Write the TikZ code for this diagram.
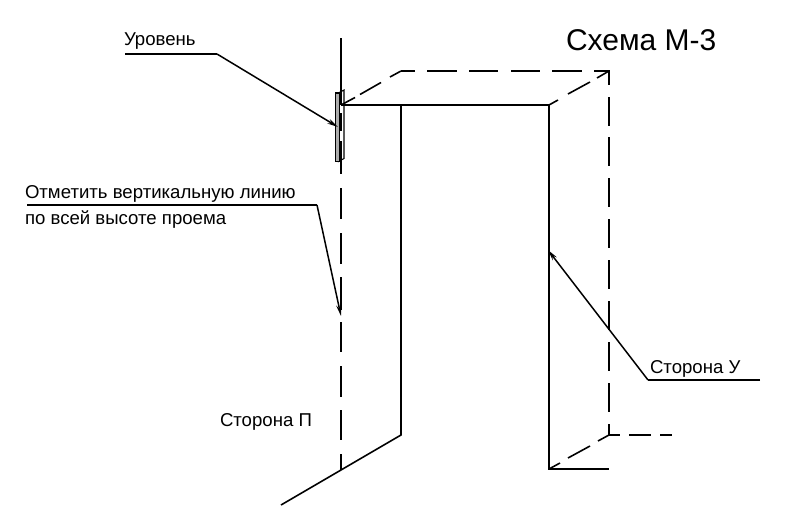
\documentclass[tikz,border=0pt]{standalone}
\usepackage{fontspec}
\setmainfont{Liberation Sans}
\usetikzlibrary{arrows.meta}
\tikzset{
  line/.style={draw=black,line width=1.6pt},
  dashpart/.style={draw=black,line width=1.6pt},
  leader/.style={draw=black,line width=1.5pt,-{Stealth[length=11pt,width=5pt]}},
  shelf/.style={draw=black,line width=1.5pt},
  lab/.style={anchor=base west,inner sep=0pt,outer sep=0pt,text=black,font=\fontsize{18.6}{20}\selectfont},
  ttl/.style={anchor=base west,inner sep=0pt,outer sep=0pt,text=black,font=\fontsize{30}{32}\selectfont},
}
\begin{document}
\begin{tikzpicture}[x=1pt,y=-1pt]
\useasboundingbox (0,0) rectangle (800,530);
\fill[white] (0,0) rectangle (800,530);
% corners
\coordinate (A) at (341,105); \coordinate (B) at (549,105);
\coordinate (C) at (401,105); \coordinate (D) at (401,435);
\coordinate (E) at (549,469); \coordinate (F) at (609,469);
\coordinate (G) at (341,470); \coordinate (H) at (281,505);
\coordinate (TL) at (401,71); \coordinate (TR) at (609,71);
\coordinate (BR) at (609,435);
% level
\draw[black,line width=1.1pt,fill=white] (338.5,93) -- (344,90) -- (344,158.5) -- (338.5,161.5) -- cycle;
\filldraw[draw=black,line width=1.1pt,fill=gray!65] (335.5,93) -- (339.5,93) -- (339.5,161.5) -- (335.5,161.5) -- cycle;
% vertical line through level
\draw[line] (341,38) -- (A);
\foreach \a/\b in {113/131,141/174,188/219,233/264,277/310,322/352,366/397,410/440,454/470}
  \draw[dashpart] (341,\a) -- (341,\b);
% solid frame
\draw[line] (A) -- (B) -- (E) -- (F);
\draw[line] (C) -- (D) -- (H);
% top dashes
\draw[line] (TL) -- (415,71);
\foreach \a/\b in {427/457,469/498,511/540,552/582}
  \draw[dashpart] (\a,71) -- (\b,71);
\draw[line] (594,71) -- (TR) -- (609,85);
% right vertical dashes
\foreach \a/\b in {97/126,137/166,178/207,219/248,260/289,301/330,342/371,383/412}
  \draw[dashpart] (609,\a) -- (609,\b);
\draw[line] (609,424) -- (BR) -- (620,435);
\draw[dashpart] (629,435) -- (651,435);
\draw[dashpart] (660,435) -- (672,435);
% diagonals
\draw[dashpart] (A) -- (355,97.5);
\draw[dashpart] (360,94.5) -- (381,82.5);
\draw[dashpart] (390,77) -- (TL);
\draw[dashpart] (B) -- (558,100);
\draw[dashpart] (568,94) -- (590,82);
\draw[dashpart] (597,78) -- (TR);
\draw[dashpart] (E) -- (560,463);
\draw[dashpart] (568,458) -- (590,446);
\draw[dashpart] (598,441) -- (BR);
% leaders
\coordinate (u0) at (125,54); \coordinate (u1) at (217,54); \coordinate (u2) at (338,127);
\draw[shelf] (u0) -- (u1); \draw[leader] (u1) -- (u2);
\coordinate (o0) at (27,205); \coordinate (o1) at (317,205); \coordinate (o2) at (341,316);
\draw[shelf] (o0) -- (o1); \draw[leader] (o1) -- (o2);
\coordinate (s0) at (760,380); \coordinate (s1) at (648,380); \coordinate (s2) at (548,250);
\draw[shelf] (s0) -- (s1); \draw[leader] (s1) -- (s2);
% text
\node[ttl] (title) at (566,50) {Схема М-3};
\node[lab] (t1) at (124,45) {Уровень};
\node[lab] (t2) at (25,198) {Отметить вертикальную линию};
\node[lab] (t3) at (25,224) {по всей высоте проема};
\node[lab] (t4) at (220,426) {Сторона П};
\node[lab] (t5) at (650,373) {Сторона У};
\end{tikzpicture}
\end{document}
